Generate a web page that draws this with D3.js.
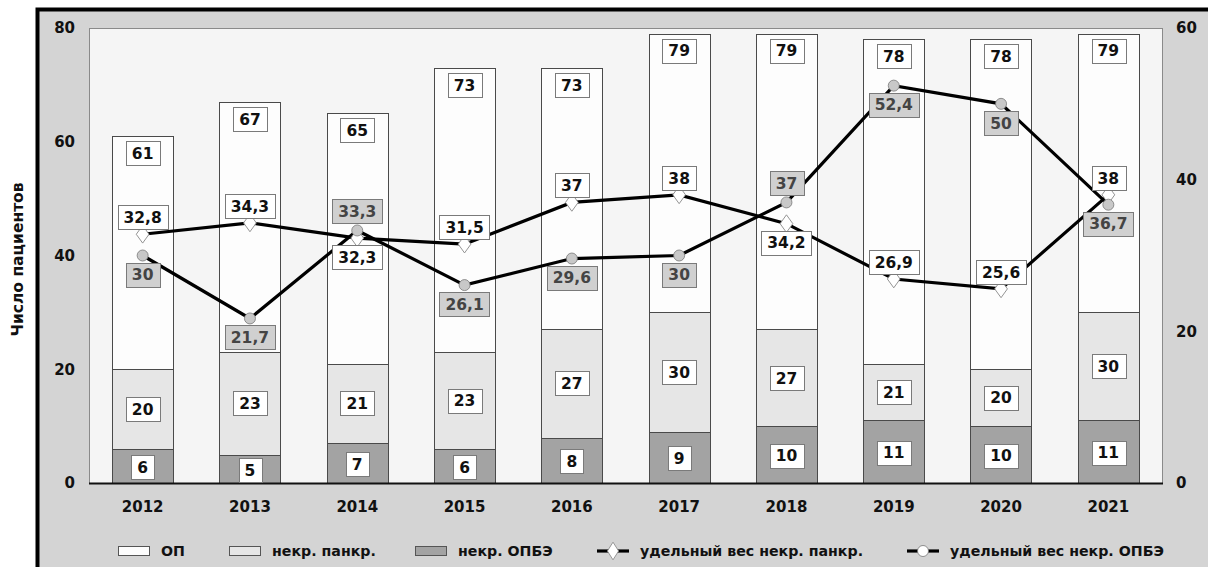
<!DOCTYPE html>
<html>
<head>
<meta charset="utf-8">
<script src="https://cdn.jsdelivr.net/npm/d3@7"></script>
<style>
  body { margin: 0; background: #fff; }
  text { font-family: "DejaVu Sans", Verdana, sans-serif; font-weight: bold; }
</style>
</head>
<body>
<div id="chart"></div>
<script>
var years = ["2012", "2013", "2014", "2015", "2016", "2017", "2018", "2019", "2020", "2021"]
var op = [61, 67, 65, 73, 73, 79, 79, 78, 78, 79]
var nekrPankr = [20, 23, 21, 23, 27, 30, 27, 21, 20, 30]
var nekrOpbe = [6, 5, 7, 6, 8, 9, 10, 11, 10, 11]
var shareP = [32.8, 34.3, 32.3, 31.5, 37, 38, 34.2, 26.9, 25.6, 38]
var shareO = [30, 21.7, 33.3, 26.1, 29.6, 30, 37, 52.4, 50, 36.7]
var leftTicks = [0, 20, 40, 60, 80]
var rightTicks = [0, 20, 40, 60]

var W = 1208, H = 567
var margin = { top: 28, right: 46, bottom: 84, left: 89 },
    width = W - margin.left - margin.right,
    height = H - margin.top - margin.bottom

var root = d3.select("#chart").append("svg")
    .attr("width", W)
    .attr("height", H)

// outer frame
root.append("rect")
    .attr("x", 37.5).attr("y", 9.5)
    .attr("width", W + 20).attr("height", H + 20)
    .attr("fill", "#d4d4d4")
    .attr("stroke", "#000")
    .attr("stroke-width", 4)

root.append("text")
    .attr("transform", "translate(23," + (margin.top + height / 2 + 4) + ") rotate(-90)")
    .attr("text-anchor", "middle")
    .attr("font-size", 15.5)
    .attr("fill", "#111")
    .text("Число пациентов")

var svg = root.append("g")
    .attr("transform", "translate(" + margin.left + "," + margin.top + ")")

var x = d3.scaleBand().domain(years).range([0, width]).paddingInner(0.43).paddingOuter(0.215)
var y = d3.scaleLinear().domain([0, 80]).range([height, 0])
var y2 = d3.scaleLinear().domain([0, 60]).range([height, 0])

svg.append("rect")
    .attr("x", 0.5).attr("y", 0.5)
    .attr("width", width).attr("height", height)
    .attr("fill", "#f5f5f5")
    .attr("stroke", "#8a8a8a")

// bars (overlapping, all from zero)
var barSeries = [
    { vals: op, fill: "#fdfdfd" },
    { vals: nekrPankr, fill: "#e6e6e6" },
    { vals: nekrOpbe, fill: "#a3a3a3" }
]
barSeries.forEach(function (s) {
    svg.selectAll(null)
        .data(s.vals)
        .enter()
        .append("rect")
        .attr("x", function (d, i) { return Math.round(x(years[i])) + 0.5 })
        .attr("y", function (d) { return Math.round(y(d)) + 0.5 })
        .attr("width", Math.round(x.bandwidth()))
        .attr("height", function (d) { return height - Math.round(y(d)) })
        .attr("fill", s.fill)
        .attr("stroke", "#4a4a4a")
        .attr("stroke-width", 1)
})

// baseline
svg.append("line")
    .attr("x1", 0).attr("x2", width + 1)
    .attr("y1", height + 0.5).attr("y2", height + 0.5)
    .attr("stroke", "#111").attr("stroke-width", 2)

// axes
var axL = svg.append("g").call(d3.axisLeft(y).tickValues(leftTicks).tickSize(0).tickPadding(14))
var axR = svg.append("g").attr("transform", "translate(" + width + ",0)")
    .call(d3.axisRight(y2).tickValues(rightTicks).tickSize(0).tickPadding(14))
var axB = svg.append("g").attr("transform", "translate(0," + height + ")")
    .call(d3.axisBottom(x).tickSize(0).tickPadding(18))
;[axL, axR, axB].forEach(function (a) {
    a.select(".domain").remove()
    a.selectAll("text").attr("font-size", 15).attr("font-family", null).attr("fill", "#111")
})

function fmt(v) { return String(v).replace(".", ",") }

function label(cx, cy, txt, grey) {
    var g = svg.append("g")
    var t = g.append("text")
        .attr("x", cx).attr("y", cy)
        .attr("text-anchor", "middle")
        .attr("dy", "0.37em")
        .attr("font-size", 15.5)
        .attr("fill", grey ? "#444" : "#111")
        .text(txt)
    var w = t.node().getComputedTextLength()
    g.insert("rect", "text")
        .attr("x", Math.round(cx - w / 2 - 6) + 0.5)
        .attr("y", Math.round(cy - 12) + 0.5)
        .attr("width", Math.round(w + 12))
        .attr("height", 24)
        .attr("fill", grey ? "#d0d0d0" : "#fff")
        .attr("stroke", "#7a7a7a")
}

// bar labels
years.forEach(function (yr, i) {
    var cx = x(yr) + x.bandwidth() / 2
    label(cx, y(op[i]) + 17, op[i], false)
    label(cx, (y(nekrPankr[i]) + y(nekrOpbe[i])) / 2, nekrPankr[i], false)
    label(cx, (y(nekrOpbe[i]) + height) / 2 + 1, nekrOpbe[i], false)
})

// lines
var line = d3.line()
    .x(function (d, i) { return x(years[i]) + x.bandwidth() / 2 })
    .y(function (d) { return y2(d) })

svg.append("path").datum(shareP).attr("d", line)
    .attr("fill", "none").attr("stroke", "#000").attr("stroke-width", 3.2)
svg.append("path").datum(shareO).attr("d", line)
    .attr("fill", "none").attr("stroke", "#000").attr("stroke-width", 3.2)

var diamond = d3.symbol().type(d3.symbolDiamond).size(90)
svg.selectAll(".mp").data(shareP).enter().append("path")
    .attr("d", diamond)
    .attr("transform", function (d, i) {
        return "translate(" + (x(years[i]) + x.bandwidth() / 2) + "," + y2(d) + ") scale(1.25,1)"
    })
    .attr("fill", "#fff").attr("stroke", "#888").attr("stroke-width", 0.8)

svg.selectAll(".mo").data(shareO).enter().append("circle")
    .attr("cx", function (d, i) { return x(years[i]) + x.bandwidth() / 2 })
    .attr("cy", function (d) { return y2(d) })
    .attr("r", 5.5)
    .attr("fill", "#c8c8c8").attr("stroke", "#777").attr("stroke-width", 0.8)

// share labels: pancreatic above, OPBE below, swapped when OPBE sits just above
years.forEach(function (yr, i) {
    var cx = x(yr) + x.bandwidth() / 2
    var swap = shareO[i] > shareP[i] && shareO[i] - shareP[i] < 5
    label(cx, y2(shareP[i]) + (swap ? 19 : -17), fmt(shareP[i]), false)
    label(cx, y2(shareO[i]) + (swap ? -19 : 19), fmt(shareO[i]), true)
})

// legend
var legend = root.append("g").attr("transform", "translate(0,551)")
var legItems = [
    { name: "ОП", kind: "bar", fill: "#fdfdfd", x: 118 },
    { name: "некр. панкр.", kind: "bar", fill: "#e6e6e6", x: 229 },
    { name: "некр. ОПБЭ", kind: "bar", fill: "#a3a3a3", x: 415 },
    { name: "удельный вес некр. панкр.", kind: "diamond", x: 597 },
    { name: "удельный вес некр. ОПБЭ", kind: "circle", x: 907 }
]
legItems.forEach(function (it) {
    var g = legend.append("g").attr("transform", "translate(" + it.x + ",0)")
    if (it.kind === "bar") {
        g.append("rect").attr("x", 0.5).attr("y", -4.5).attr("width", 31).attr("height", 9)
            .attr("fill", it.fill).attr("stroke", "#555")
    } else {
        g.append("line").attr("x1", 0).attr("x2", 32).attr("y1", 0).attr("y2", 0)
            .attr("stroke", "#000").attr("stroke-width", 3.2)
        if (it.kind === "diamond") {
            g.append("path").attr("d", diamond).attr("transform", "translate(16,0) scale(1.1,1)")
                .attr("fill", "#fff").attr("stroke", "#888").attr("stroke-width", 0.8)
        } else {
            g.append("circle").attr("cx", 16).attr("cy", 0).attr("r", 5.5)
                .attr("fill", "#fff").attr("stroke", "#777").attr("stroke-width", 0.8)
        }
    }
    g.append("text").attr("x", 43).attr("dy", "0.36em").attr("font-size", 14.2)
        .attr("fill", "#111").text(it.name)
})
</script>
</body>
</html>
